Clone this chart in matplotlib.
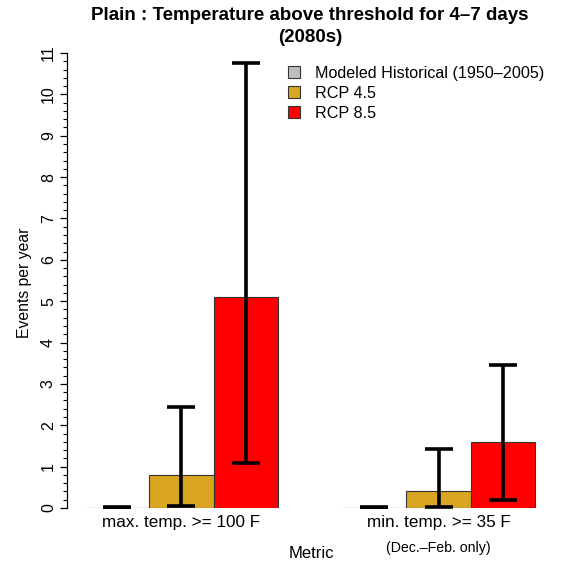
import numpy as np
import matplotlib.pyplot as plt
from matplotlib.patches import Patch
from matplotlib.ticker import MultipleLocator, FixedLocator

plt.rcParams['font.family'] = ['Liberation Sans', 'DejaVu Sans']

# Data
metrics = ["max. temp. >= 100 F", "min. temp. >= 35 F"]
series = ["Modeled Historical (1950\u20132005)", "RCP 4.5", "RCP 8.5"]
colors = ["#BEBEBE", "#DAA520", "#FF0000"]
means = [[0.0, 0.8, 5.1],
         [0.0, 0.42, 1.6]]
lows = [[0.0, 0.05, 1.1],
        [0.0, 0.02, 0.2]]
highs = [[0.02, 2.43, 10.75],
         [0.02, 1.42, 3.45]]

W, H = 573, 562
fig = plt.figure(figsize=(W / 100, H / 100), dpi=100)
# plot region in pixels: x 67..553, y(0) at 508, 41.36 px per unit
ax = fig.add_axes([67 / W, (H - 508) / H, 486 / W, 463 / H])

# R-style barplot layout: bars of width 1, one empty bar between groups
for g in range(len(metrics)):
    for s in range(len(series)):
        x = 1.5 + g * 4 + s
        ax.bar(x, means[g][s], width=1.0, color=colors[s],
               edgecolor="#333333", linewidth=0.8)
        ax.errorbar(x, means[g][s],
                    yerr=[[means[g][s] - lows[g][s]], [highs[g][s] - means[g][s]]],
                    fmt="none", ecolor="black", elinewidth=2.6,
                    capsize=10, capthick=2.6)

ax.set_xlim(0.72, 8.28)
ax.set_ylim(0, 463 / 41.36)

for side in ["top", "right", "bottom"]:
    ax.spines[side].set_visible(False)
ax.spines["left"].set_bounds(0, 11)
ax.spines["left"].set_linewidth(0.9)

ax.yaxis.set_major_locator(MultipleLocator(1))
ax.yaxis.set_minor_locator(FixedLocator(np.arange(0, 11.01, 0.2)))
ax.tick_params(axis="y", which="major", length=5, width=0.9, labelsize=11.5, pad=3)
ax.tick_params(axis="y", which="minor", length=3, width=0.8)
for lbl in ax.get_yticklabels():
    lbl.set_rotation(90)
    lbl.set_va("center")
ax.set_xticks([])

fig.text(25 / W, 1 - 283 / H, "Events per year", rotation=90,
         ha="center", va="center", fontsize=11.3)

# group labels under the bars
centers = [2.5, 6.5]
for c, m in zip(centers, metrics):
    ax.text(c, -0.36, m, ha="center", va="center", fontsize=12.3, clip_on=False)
ax.text(centers[1], -0.97, "(Dec.\u2013Feb. only)", ha="center", va="center",
        fontsize=10.2, clip_on=False)
fig.text(311 / W, 1 - 553 / H, "Metric", ha="center", va="center", fontsize=12)

fig.text(310 / W, 1 - 16 / H, "Plain : Temperature above threshold for 4\u20137 days",
         ha="center", va="center", fontsize=13.5, fontweight="bold")
fig.text(310 / W, 1 - 38 / H, "(2080s)",
         ha="center", va="center", fontsize=13.5, fontweight="bold")

handles = [Patch(facecolor=c, edgecolor="#333333", linewidth=0.8) for c in colors]
ax.legend(handles, series, loc="upper left", bbox_to_anchor=(288 / W, 1 - 66 / H),
          bbox_transform=fig.transFigure, frameon=False, fontsize=11.6,
          handlelength=0.75, handleheight=0.75, handletextpad=0.9,
          labelspacing=0.3, borderaxespad=0, borderpad=0)

fig.savefig("out.png", dpi=100)
